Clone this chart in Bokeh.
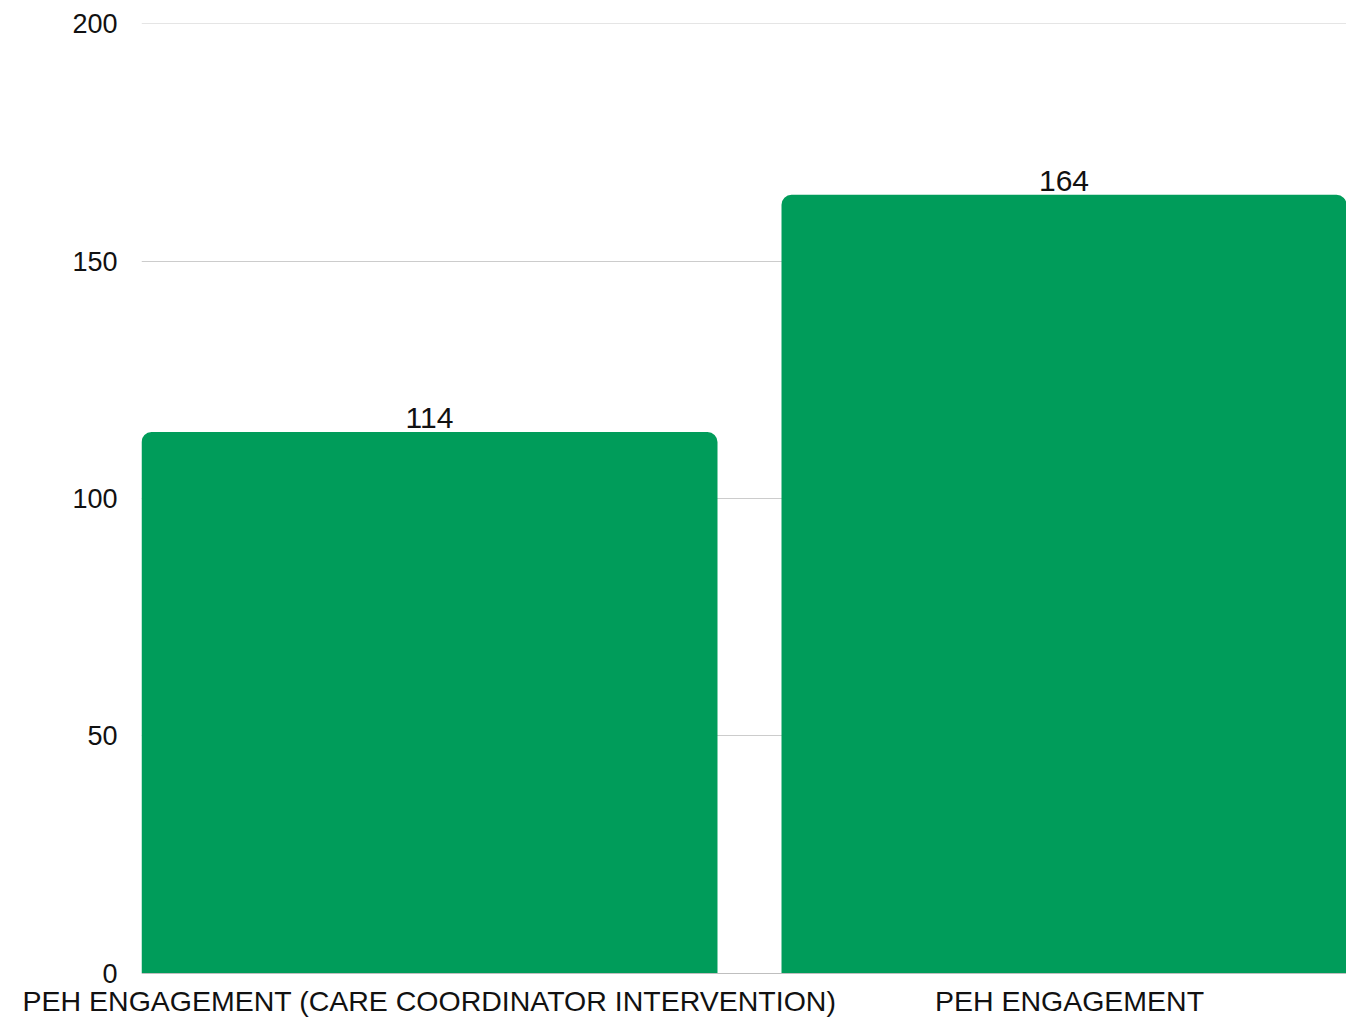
from bokeh.plotting import figure
from bokeh.models import Range1d, FixedTicker, ColumnDataSource, Grid
from bokeh.core.properties import value
from bokeh.embed import file_html
from bokeh.resources import INLINE

categories = ["PEH ENGAGEMENT (CARE COORDINATOR INTERVENTION)", "PEH ENGAGEMENT"]
values = [114, 164]
y_ticks = [0, 50, 100, 150, 200]

FONT = "Liberation Sans"
GREEN = "#009C5A"
BAR_W = 0.9
X0, X1 = -0.45, 1.4328

xs = list(range(len(categories)))
# label x: centre of the visible part of each bar
lx = [(max(x - BAR_W / 2, X0) + min(x + BAR_W / 2, X1)) / 2 for x in xs]

src = ColumnDataSource(dict(x=xs, lx=lx, v=values, t=[str(v) for v in values]))

p = figure(width=1346, height=1020, x_range=Range1d(X0, X1), y_range=Range1d(-0.1, 200.1),
           output_backend="svg", toolbar_location=None,
           min_border_left=141, min_border_right=0, min_border_top=23, min_border_bottom=47)
p.outline_line_color = None
p.background_fill_color = "white"
p.border_fill_color = "white"

p.xgrid.grid_line_color = None
p.ygrid.ticker = FixedTicker(ticks=y_ticks)
p.ygrid.grid_line_color = "#cccccc"
p.ygrid.grid_line_width = 1

zero = Grid(dimension=1, ticker=FixedTicker(ticks=[0]), grid_line_color="#999999", grid_line_width=1)
p.add_layout(zero)

p.vbar(x="x", top="v", width=BAR_W, bottom=0, source=src, fill_color=GREEN, line_color=None,
       border_radius=(10, 10, 0, 0))

p.text(x="lx", y="v", text="t", source=src, text_align="center", text_baseline="alphabetic",
       y_offset=-14, text_font=value(FONT), text_font_size="30px", text_color="#111111")

ya = p.yaxis[0]
ya.ticker = FixedTicker(ticks=y_ticks)
ya.axis_line_color = None
ya.major_tick_line_color = None
ya.minor_tick_line_color = None
ya.major_label_standoff = 18
ya.major_label_text_font = FONT
ya.major_label_text_font_size = "27px"
ya.major_label_text_color = "#111111"

xa = p.xaxis[0]
xa.ticker = FixedTicker(ticks=xs)
xa.major_label_overrides = {i: c for i, c in zip(xs, categories)}
xa.axis_line_color = None
xa.major_tick_line_color = None
xa.minor_tick_line_color = None
xa.major_label_standoff = 5
xa.major_label_text_font = FONT
xa.major_label_text_font_size = "28.5px"
xa.major_label_text_color = "#111111"

open("out.html", "w").write(file_html(p, INLINE))
